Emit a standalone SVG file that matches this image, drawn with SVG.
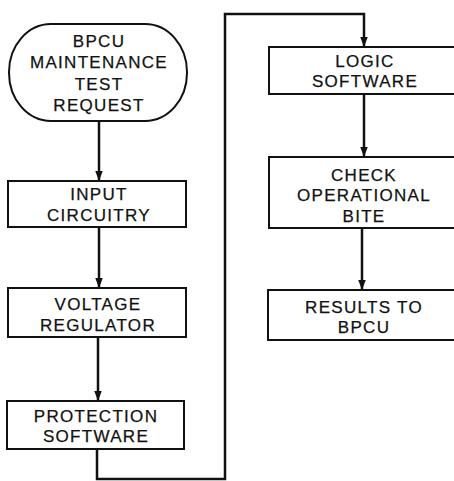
<svg xmlns="http://www.w3.org/2000/svg" width="454" height="481" viewBox="0 0 454 481">
<defs>
<style>
.box{fill:#fff;stroke:#111;stroke-width:2}
.c{fill:none;stroke:#111;stroke-width:2.5}
text{font-family:"Liberation Sans",Arial,sans-serif;font-size:17px;fill:#111;stroke:#111;stroke-width:0.25;text-anchor:middle;letter-spacing:1.3px}
</style>
<marker id="ah" markerUnits="userSpaceOnUse" markerWidth="10" markerHeight="14" refX="12" refY="4.5" orient="auto" viewBox="0 0 12 9">
<path d="M0,0 L12,4.5 L0,9 z" fill="#111"/>
</marker>
</defs>
<rect width="454" height="481" fill="#fff"/>
<g id="connectors">
<path class="c" d="M99,121 V181" marker-end="url(#ah)"/>
<path class="c" d="M99,227 V288" marker-end="url(#ah)"/>
<path class="c" d="M98,337 V401" marker-end="url(#ah)"/>
<path class="c" d="M97,449 V479 H225 V14 H364 V47" marker-end="url(#ah)"/>
<path class="c" d="M364,94 V157" marker-end="url(#ah)"/>
<path class="c" d="M362,228 V290" marker-end="url(#ah)"/>
</g>
<g id="n1">
<rect class="box" x="9" y="24" width="178" height="97" rx="42" ry="48"/>
<text x="99" y="47">BPCU</text>
<text x="99" y="68">MAINTENANCE</text>
<text x="99" y="90">TEST</text>
<text x="99" y="111">REQUEST</text>
</g>
<g id="n2">
<rect class="box" x="8" y="181" width="178" height="46"/>
<text x="99" y="200">INPUT</text>
<text x="99" y="221">CIRCUITRY</text>
</g>
<g id="n3">
<rect class="box" x="8" y="288" width="178" height="49"/>
<text x="98" y="310">VOLTAGE</text>
<text x="98" y="331">REGULATOR</text>
</g>
<g id="n4">
<rect class="box" x="7" y="401" width="177" height="48"/>
<text x="96" y="422">PROTECTION</text>
<text x="96" y="442">SOFTWARE</text>
</g>
<g id="n5">
<rect class="box" x="269" y="47" width="192" height="47"/>
<text x="365" y="67">LOGIC</text>
<text x="365" y="87">SOFTWARE</text>
</g>
<g id="n6">
<rect class="box" x="269" y="157" width="192" height="71"/>
<text x="364" y="181">CHECK</text>
<text x="364" y="201">OPERATIONAL</text>
<text x="364" y="222">BITE</text>
</g>
<g id="n7">
<rect class="box" x="268" y="290" width="192" height="50"/>
<text x="364" y="313">RESULTS TO</text>
<text x="364" y="333">BPCU</text>
</g>
</svg>
